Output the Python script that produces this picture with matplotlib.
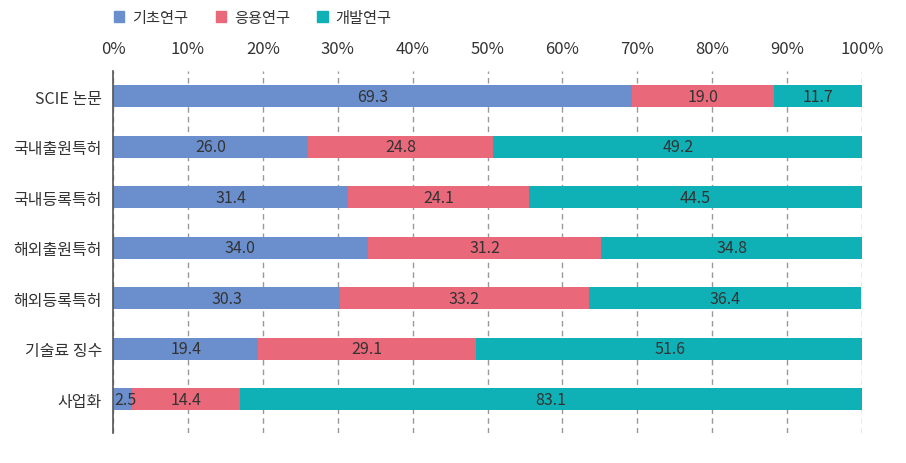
import numpy as np
import matplotlib.pyplot as plt
from matplotlib.patches import Patch

plt.rcParams['font.family'] = ['Noto Sans CJK KR', 'DejaVu Sans']

categories = ['SCIE 논문', '국내출원특허', '국내등록특허', '해외출원특허', '해외등록특허', '기술료 징수', '사업화']
basic = [69.3, 26.0, 31.4, 34.0, 30.3, 19.4, 2.5]
applied = [19.0, 24.8, 24.1, 31.2, 33.2, 29.1, 14.4]
develop = [11.7, 49.2, 44.5, 34.8, 36.4, 51.6, 83.1]
series_names = ['기초연구', '응용연구', '개발연구']
colors = ['#6a8fcc', '#e9687a', '#0fb0b6']

fig = plt.figure(figsize=(9.06, 4.64), dpi=100)
ax = fig.add_axes([113/906, 1-434/464, (862-113)/906, (434-72)/464])

y = np.arange(len(categories))
left = np.zeros(len(categories))
for vals, c in zip([basic, applied, develop], colors):
    vals = np.array(vals)
    ax.barh(y, vals, left=left, height=0.44, color=c, zorder=2)
    for yi, l, v in zip(y, left, vals):
        if v < 5:
            ax.text(l + 0.2, yi, f'{v:.1f}', ha='left', va='center', fontsize=11.5, color='#333333', zorder=3)
        else:
            ax.text(l + v / 2, yi, f'{v:.1f}', ha='center', va='center', fontsize=11.5, color='#333333', zorder=3)
    left += vals

ax.set_xlim(0, 100)
ax.set_ylim(6.67, -0.5)
ax.set_yticks(y)
ax.set_yticklabels(categories, fontsize=11.5, color='#333333')
ax.set_xticks(np.arange(0, 101, 10))
ax.set_xticklabels([f'{t}%' for t in range(0, 101, 10)], fontsize=12, color='#333333')
ax.xaxis.tick_top()
ax.tick_params(axis='both', length=0, pad=8)
ax.tick_params(axis='x', pad=10)
ax.grid(axis='x', linestyle=(0, (4, 3)), color='#999999', linewidth=1, zorder=1)
ax.set_axisbelow(True)
for s in ['top', 'right', 'bottom']:
    ax.spines[s].set_visible(False)
ax.spines['left'].set_color('#555555')
ax.spines['left'].set_linewidth(1.2)
ax.spines['left'].set_zorder(4)

handles = [Patch(color=c, label=n) for c, n in zip(colors, series_names)]
fig.legend(handles=handles, loc='center left', bbox_to_anchor=(100/906, 1-18/464), ncol=3,
           frameon=False, fontsize=11, handlelength=0.7, handleheight=0.7, handletextpad=0.5,
           columnspacing=1.8, labelcolor='#333333')

fig.savefig('out.png', dpi=100)
